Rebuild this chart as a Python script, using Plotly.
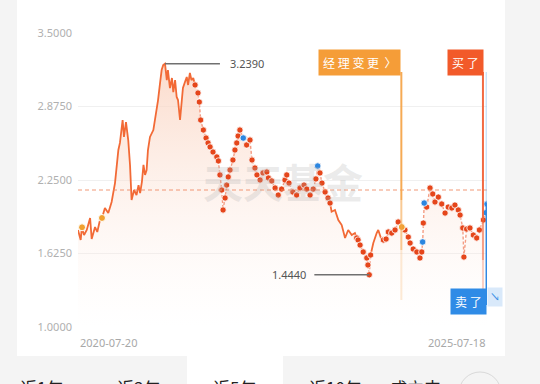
import pandas as pd
import plotly.graph_objects as go

# ---------------- data ----------------
START = pd.Timestamp("2020-07-20")
END = pd.Timestamp("2025-07-18")

nav_days = [0, 12, 17, 27, 39, 54, 61, 76, 86, 98, 107, 120, 135, 150, 157, 165, 180, 187, 199, 205,
            214, 224, 232, 239, 250, 261, 270, 277, 285, 292, 299, 306, 312, 321, 336, 351, 357, 366, 373, 380,
            388, 396, 401, 410, 419, 425, 433, 440, 446, 455, 464, 468, 477, 485, 491, 499, 506, 514, 522,
            535, 541, 547, 559, 571, 580, 589, 602, 619, 626, 633, 641, 647, 656, 663, 670, 678, 691, 700, 708,
            714, 722, 737, 752, 767, 776, 789, 798, 812, 825, 842, 849, 864, 879, 893, 908, 923, 931, 941, 958,
            975, 990, 1008, 1020, 1035, 1049, 1061, 1069, 1079, 1088, 1102, 1115, 1124,
            1131, 1146, 1161, 1176, 1191, 1205, 1221, 1235, 1243,
            1249, 1258, 1272, 1288, 1293, 1299, 1305,
            1317, 1332, 1339, 1351, 1362,
            1374, 1384, 1399, 1414, 1428, 1444, 1458, 1473, 1481, 1495, 1511, 1525, 1533, 1537, 1540, 1544,
            1555, 1570, 1582, 1592, 1607, 1622, 1637, 1651, 1667, 1681, 1696, 1704, 1716, 1721, 1733, 1748,
            1763, 1778, 1790, 1808, 1820, 1824]
nav_values = [1.825, 1.740, 1.842, 1.782, 1.825, 1.927, 1.748, 1.850, 1.808, 1.910, 1.927, 2.012, 1.969, 2.063,
              2.139, 2.224, 2.505, 2.565, 2.760, 2.616, 2.743, 2.590, 2.378, 2.080, 2.165, 2.122, 2.207, 2.139,
              2.233, 2.378, 2.293, 2.335, 2.505, 2.616, 2.675, 2.845, 2.930, 3.075, 3.185, 3.228, 3.239, 3.100,
              3.185, 3.032, 3.117, 2.998, 3.100, 2.956, 2.930, 2.760, 2.973, 3.032, 3.083, 3.126, 3.058, 3.160,
              3.100, 3.117, 3.058,
              2.990, 2.913, 2.760, 2.675, 2.607, 2.565, 2.531, 2.488, 2.446, 2.412, 2.293, 2.165, 1.995, 2.097,
              2.207, 2.276, 2.335, 2.420, 2.505, 2.565, 2.624, 2.675, 2.607, 2.548, 2.590, 2.420, 2.352, 2.293,
              2.250, 2.310, 2.318, 2.267, 2.242, 2.182, 2.122, 2.173, 2.250, 2.293, 2.224, 2.148, 2.122, 2.182,
              2.207, 2.173, 2.122, 2.173, 2.259, 2.369, 2.310, 2.224, 2.148, 2.097, 2.054,
              1.980, 1.995, 1.910, 1.867, 1.757, 1.825, 1.782, 1.799, 1.757,
              1.740, 1.697, 1.638, 1.587, 1.527, 1.444, 1.612,
              1.714, 1.799, 1.825, 1.757, 1.740,
              1.748, 1.808, 1.799, 1.825, 1.893, 1.850, 1.825, 1.765, 1.714, 1.663, 1.638, 1.587, 1.638, 1.723,
              1.884, 2.054, 2.020, 2.182, 2.131, 2.063, 2.105, 2.046, 1.969, 2.020, 2.012, 2.037, 1.995, 1.952,
              1.842, 1.595, 1.833, 1.842, 1.782, 1.757, 1.825, 1.910, 1.972, 2.046]

held_ranges = [(522, 1124), (1243, 1305), (1362, 1824)]   # dotted (holding) periods, in days

orange_days = [18, 107, 1444]
orange_values = [1.848, 1.927, 1.850]
blue_days = [737, 1069, 1537, 1544, 1820, 1824]
blue_values = [2.607, 2.369, 1.723, 2.054, 1.972, 2.046]

avg_line_value = 2.165
manager_change_day = 1442
buy_day = 1806
sell_day = 1822

y_ticks = [1.0, 1.625, 2.25, 2.875, 3.5]
x_labels = ["2020-07-20", "2025-07-18"]
tab_labels = ["近1年", "近3年", "近5年", "近10年", "成立来"]

# ---------------- helpers ----------------
L, R, T, B = 78, 487, 33, 327


def px(x):
    return (x - L) / (R - L)


def py(y):
    return (B - y) / (B - T)


def day(d):
    return START + pd.Timedelta(days=d)


dates = [day(d) for d in nav_days]


def held(d):
    return any(a <= d <= b for a, b in held_ranges)


def inside(d):
    return any(a < d < b for a, b in held_ranges)


solid_y = [v if not inside(d) else None for d, v in zip(nav_days, nav_values)]
dotted_y = [v if held(d) else None for d, v in zip(nav_days, nav_values)]

fig = go.Figure()

# area fill
fig.add_trace(go.Scatter(
    x=dates, y=nav_values, mode="lines", line=dict(width=0), fill="tozeroy",
    fillgradient=dict(type="vertical",
                      colorscale=[[0, "rgba(253,240,234,0.0)"], [1, "rgba(250,210,190,0.8)"]],
                      start=1.0, stop=3.25),
    hoverinfo="skip", showlegend=False))

# solid line
fig.add_trace(go.Scatter(x=dates, y=solid_y, mode="lines",
                         line=dict(color="#f26a36", width=1.8), connectgaps=False,
                         hoverinfo="skip", showlegend=False))
# dotted (held) part
fig.add_trace(go.Scatter(x=dates, y=dotted_y, mode="lines+markers",
                         line=dict(color="rgba(242,140,110,0.85)", width=1.4, dash="3px,2px"),
                         marker=dict(color="#e5461b", size=6.3, line=dict(color="white", width=0.8)),
                         connectgaps=False, hoverinfo="skip", showlegend=False))
# special markers
fig.add_trace(go.Scatter(x=[day(d) for d in orange_days], y=orange_values, mode="markers",
                         marker=dict(color="#f0a130", size=7, line=dict(color="white", width=1)),
                         hoverinfo="skip", showlegend=False))
fig.add_trace(go.Scatter(x=[day(d) for d in blue_days], y=blue_values, mode="markers",
                         marker=dict(color="#2b86e0", size=6.5, line=dict(color="white", width=0.8)),
                         hoverinfo="skip", showlegend=False))

shapes = []
# white card and tab strip
shapes.append(dict(type="rect", xref="paper", yref="paper", x0=px(17), x1=px(505), y0=py(356), y1=py(-5),
                   fillcolor="white", line=dict(width=0), layer="below"))
shapes.append(dict(type="rect", xref="paper", yref="paper", x0=px(187), x1=px(283), y0=py(400), y1=py(356),
                   fillcolor="white", line=dict(width=0), layer="below"))
shapes.append(dict(type="circle", xref="paper", yref="paper", x0=px(459), x1=px(501), y0=py(414), y1=py(372),
                   fillcolor="rgba(0,0,0,0)", line=dict(color="#d9d9d9", width=1)))

# average dashed line
shapes.append(dict(type="line", xref="x", yref="y", x0=START, x1=END, y0=avg_line_value, y1=avg_line_value,
                   line=dict(color="rgba(238,135,95,0.85)", width=1, dash="4px,3px")))

# event vertical lines
for y0, y1, a in [(72, 200, 0.95), (200, 250, 0.6), (250, 300, 0.22)]:
    shapes.append(dict(type="line", xref="x", yref="paper", x0=day(manager_change_day), x1=day(manager_change_day),
                       y0=py(y0), y1=py(y1), line=dict(color=f"rgba(245,165,75,{a})", width=2)))
for y0, y1, a in [(72, 220, 0.95), (220, 260, 0.6), (260, 295, 0.3)]:
    shapes.append(dict(type="line", xref="x", yref="paper", x0=day(buy_day), x1=day(buy_day),
                       y0=py(y0), y1=py(y1), line=dict(color=f"rgba(240,98,58,{a})", width=2)))
shapes.append(dict(type="line", xref="x", yref="paper", x0=day(sell_day), x1=day(sell_day),
                   y0=py(72), y1=py(203), line=dict(color="rgba(140,190,240,0.45)", width=2)))
shapes.append(dict(type="line", xref="x", yref="paper", x0=day(sell_day), x1=day(sell_day),
                   y0=py(203), y1=py(305), line=dict(color="#2f88e3", width=2)))

# max / min leader lines
imax = max(range(len(nav_values)), key=lambda i: nav_values[i])
imin = min(range(len(nav_values)), key=lambda i: nav_values[i])
vmax, vmin = nav_values[imax], nav_values[imin]
shapes.append(dict(type="line", xref="x", yref="y", x0=dates[imax], x1=dates[imax] + pd.Timedelta(days=245),
                   y0=vmax, y1=vmax, line=dict(color="#707070", width=1.5)))
shapes.append(dict(type="line", xref="x", yref="y", x0=dates[imin] - pd.Timedelta(days=245), x1=dates[imin],
                   y0=vmin, y1=vmin, line=dict(color="#707070", width=1.5)))

ann = []
ann.append(dict(x=dates[imax] + pd.Timedelta(days=280), y=vmax, xref="x", yref="y", text=f"{vmax:.4f}",
                showarrow=False, xanchor="left", yanchor="middle", font=dict(size=11, color="#555")))
ann.append(dict(x=dates[imin] - pd.Timedelta(days=272), y=vmin, xref="x", yref="y", text=f"{vmin:.4f}",
                showarrow=False, xanchor="right", yanchor="middle", font=dict(size=11, color="#555")))

# watermark
ann.append(dict(x=px(283), y=py(181), xref="paper", yref="paper", text="<b>天天基金</b>", showarrow=False,
                font=dict(size=40, color="rgba(175,175,175,0.26)", family="Noto Sans CJK SC")))

# event labels
ann.append(dict(x=day(manager_change_day), y=py(49), xref="x", yref="paper", text="经 理 变 更  〉",
                showarrow=False, xanchor="right", yanchor="top", bgcolor="#f59d38", borderpad=4,
                font=dict(size=12, color="white", family="Noto Sans CJK SC")))
ann.append(dict(x=day(buy_day) + pd.Timedelta(days=4), y=py(49), xref="x", yref="paper", text="买 了",
                showarrow=False, xanchor="right", yanchor="top", bgcolor="#f25a2a", borderpad=4,
                font=dict(size=12, color="white", family="Noto Sans CJK SC")))
ann.append(dict(x=day(sell_day), y=py(288), xref="x", yref="paper", text="卖 了",
                showarrow=False, xanchor="right", yanchor="top", bgcolor="#2f8be6", borderpad=4,
                font=dict(size=12, color="white", family="Noto Sans CJK SC")))
ann.append(dict(x=day(sell_day), y=py(287), xref="x", yref="paper", text="↘",
                showarrow=False, xanchor="left", yanchor="top", bgcolor="rgba(185,215,245,0.55)", borderpad=2,
                font=dict(size=10, color="#3a8ee6")))

# x labels
ann.append(dict(x=START, y=py(342), xref="x", yref="paper", text=x_labels[0], showarrow=False,
                xanchor="left", yanchor="middle", font=dict(size=11, color="#a8a8a8")))
ann.append(dict(x=END, y=py(342), xref="x", yref="paper", text=x_labels[1], showarrow=False,
                xanchor="right", yanchor="middle", font=dict(size=11, color="#a8a8a8")))

# tabs (cut by the bottom of the window, as in the reference)
for cx, lab in zip([41, 138, 234, 335, 415], tab_labels):
    ann.append(dict(x=px(cx), y=py(388), xref="paper", yref="paper", text=lab, showarrow=False,
                    xanchor="center", yanchor="middle", font=dict(size=17, color="#222", family="Noto Sans CJK SC")))

fig.update_layout(
    width=540, height=384,
    margin=dict(l=L, r=540 - R, t=T, b=384 - B, pad=0),
    paper_bgcolor="#f4f4f4", plot_bgcolor="white",
    font=dict(family="Noto Sans, Noto Sans CJK SC", color="#aaa"),
    shapes=shapes, annotations=ann, showlegend=False,
    xaxis=dict(range=[START, END], showgrid=False, showticklabels=False, zeroline=False, showline=False,
               fixedrange=True),
    yaxis=dict(range=[1.0, 3.5], tickvals=y_ticks, ticktext=[f"{v:.4f}" for v in y_ticks],
               showgrid=True, gridcolor="#f0f0f0", gridwidth=1, zeroline=False, showline=False,
               tickfont=dict(size=11, color="#b0b0b0"), ticks="", ticklabelstandoff=5, fixedrange=True),
)

fig.write_html("out.html")
